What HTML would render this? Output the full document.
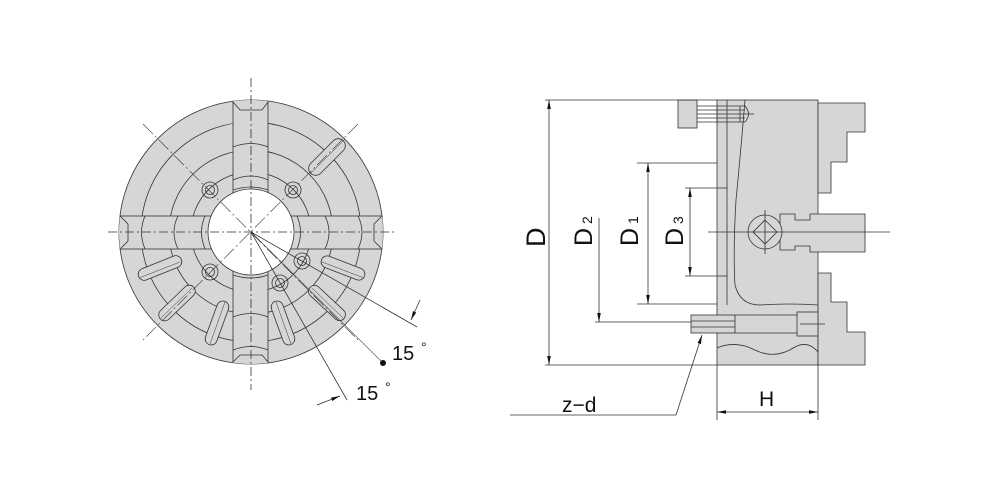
<!DOCTYPE html>
<html><head><meta charset="utf-8"><style>body{margin:0;background:#fff}svg{display:block}text{font-family:"Liberation Sans",sans-serif;fill:#111}</style></head><body>
<svg width="1000" height="500" viewBox="0 0 1000 500" xmlns="http://www.w3.org/2000/svg">
<defs>
<marker id="a" viewBox="0 0 10 10" refX="10" refY="5" markerWidth="9" markerHeight="9" orient="auto-start-reverse" markerUnits="userSpaceOnUse"><path d="M0,3 L10,5 L0,7z" fill="#111"/></marker>
<clipPath id="cc"><circle cx="251" cy="232" r="132"/></clipPath>
</defs>
<g stroke="#333" stroke-width="0.8" fill="none">
<circle cx="251" cy="232" r="132" fill="#d6d6d6"/>
<g clip-path="url(#cc)">
<circle cx="251" cy="232" r="110"/><circle cx="251" cy="232" r="82"/><circle cx="251" cy="232" r="60"/>
<rect x="233" y="90" width="35" height="290" fill="#d6d6d6"/>
<rect x="110" y="216" width="290" height="33" fill="#d6d6d6"/>
<path d="M233,147 Q251,140 268,147 M233,180 Q251,172 268,180 M233,317 Q251,310 268,317 M233,350 Q251,343 268,350 M145,216 Q138,232 145,249 M178,216 Q170,232 178,249 M325,216 Q333,232 325,249 M358,216 Q366,232 358,249 M205,216 Q198,232 205,249 M297,216 Q304,232 297,249 M233,190 Q251,184 268,190 M233,275 Q251,281 268,275"/>
<path d="M233,102 L240,110 L262,110 L268,102 M233,362 L240,355 L262,355 L268,362 M120,216 L128,224 L128,241 L120,249 M382,216 L374,224 L374,241 L382,249"/>
</g>
<circle cx="251" cy="232" r="43" fill="#fff"/>
<g fill="#d6d6d6">
<rect x="-23" y="-7" width="46" height="14" rx="7" transform="translate(327,157) rotate(-45)"/>
<rect x="-23" y="-6" width="46" height="12" rx="6" transform="translate(343,268) rotate(21)"/>
<rect x="-23" y="-6" width="46" height="12" rx="6" transform="translate(327,303) rotate(43)"/>
<rect x="-23" y="-6" width="46" height="12" rx="6" transform="translate(283,323) rotate(70)"/>
<rect x="-23" y="-6" width="46" height="12" rx="6" transform="translate(217,323) rotate(110)"/>
<rect x="-23" y="-6" width="46" height="12" rx="6" transform="translate(177,303) rotate(136)"/>
<rect x="-23" y="-6" width="46" height="12" rx="6" transform="translate(160,268) rotate(158)"/>
</g>
<g stroke-width="0.5">
<path d="M310,174 L345,139 M322,262 L364,278 M312,288 L343,318 M276,302 L291,344 M225,302 L210,344 M192,288 L161,318 M180,262 L139,278"/>
</g>
<g>
<circle cx="210" cy="190" r="8"/><circle cx="210" cy="190" r="4.5"/>
<circle cx="293" cy="190" r="8"/><circle cx="293" cy="190" r="4.5"/>
<circle cx="210" cy="272" r="8"/><circle cx="210" cy="272" r="4.5"/>
<circle cx="302" cy="261" r="8"/><circle cx="302" cy="261" r="4.5"/>
<circle cx="280" cy="283" r="8"/><circle cx="280" cy="283" r="4.5"/>
</g>
<path d="M251,78 V390 M108,232 H395" stroke-dasharray="9,3,2,3"/>
<path d="M143,124 L358,340 M358,124 L143,340" stroke-width="0.6" stroke-dasharray="14,3,2,3"/>
<path d="M251,232 L383,363" stroke-width="0.6"/>
<path d="M251,232 L417,327 M251,232 L347,400" stroke-width="0.8"/>
<path d="M420,300 L411,320" marker-end="url(#a)"/>
<path d="M317,405 L340,396" marker-end="url(#a)"/>
<rect x="717" y="100" width="101" height="265" fill="#d6d6d6"/>
<path d="M818,103 H865 V132 H847 V162 H831 V193 H818z" fill="#d6d6d6"/>
<path d="M818,273 H831 V302 H847 V332 H865 V365 H818z" fill="#d6d6d6"/>
<path d="M810,214 H865 V252 H810 V246 H795 V250 H780 V214 H795 V220 H810z" fill="#d6d6d6"/>
<circle cx="765" cy="232" r="17" fill="#d6d6d6"/>
<path d="M765,220 L777,232 L765,244 L753,232z"/>
<rect x="678" y="100" width="19" height="28" fill="#d6d6d6"/>
<path d="M697,106 H745 Q752,114 745,122 H697 M697,110 H745 M697,114 H745 M697,118 H745 M717,106 V122 M740,106 V122 M745,114 H754"/>
<rect x="691" y="315" width="44" height="18" fill="#d6d6d6"/>
<path d="M735,315 H797 M735,333 H797 M691,321 H735 M691,327 H735"/>
<rect x="797" y="312" width="21" height="24" fill="#d6d6d6"/>
<path d="M727,100 V305 M745,100 Q740,160 736,200 Q733,250 735,285 Q740,305 760,305 Q790,303 818,305"/>
<path d="M717,348 Q735,340 755,350 Q775,360 795,347 Q808,340 818,352"/>
<path d="M708,232 H890 M765,210 V254 M800,324 H825"/>
<path d="M545,100 H717 M545,365 H717 M637,163 H717 M637,304 H717 M685,188 H727 M685,276 H727 M595,322 H691" stroke-width="0.7"/>
<path d="M549,100 V365" marker-start="url(#a)" marker-end="url(#a)"/>
<path d="M648,163 V304" marker-start="url(#a)" marker-end="url(#a)"/>
<path d="M690,188 V276" marker-start="url(#a)" marker-end="url(#a)"/>
<path d="M599,218 V322" marker-end="url(#a)"/>
<path d="M717,365 V420 M818,365 V420"/>
<path d="M717,412 H818" marker-start="url(#a)" marker-end="url(#a)"/>
<path d="M510,415 H676 L702,335" marker-end="url(#a)"/>
</g>
<circle cx="383" cy="363" r="3" fill="#111"/>
<text x="392" y="360" font-size="20">15</text><text x="421" y="352" font-size="14">°</text>
<text x="356" y="400" font-size="20">15</text><text x="385" y="392" font-size="14">°</text>
<text x="759" y="406" font-size="21">H</text>
<text x="562" y="412" font-size="21">z−d</text>
<text transform="translate(545,247) rotate(-90)" font-size="27">D</text>
<text transform="translate(592,246) rotate(-90)" font-size="25">D</text><text transform="translate(592,224) rotate(-90)" font-size="14">2</text>
<text transform="translate(638,246) rotate(-90)" font-size="25">D</text><text transform="translate(638,224) rotate(-90)" font-size="14">1</text>
<text transform="translate(683,246) rotate(-90)" font-size="25">D</text><text transform="translate(683,224) rotate(-90)" font-size="14">3</text>
</svg>
</body></html>
